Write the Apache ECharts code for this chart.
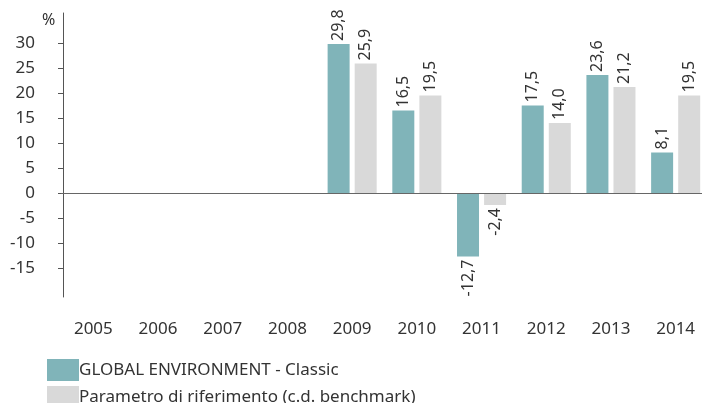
<!DOCTYPE html>
<html>
<head>
<meta charset="utf-8">
<script src="https://cdn.jsdelivr.net/npm/echarts@6/dist/echarts.min.js"></script>
<style>
  html, body { margin: 0; padding: 0; background: #fff; }
  #chart { width: 702px; height: 403px; }
</style>
</head>
<body>
<div id="chart"></div>
<script>
// dati
var anni = ['2005', '2006', '2007', '2008', '2009', '2010', '2011', '2012', '2013', '2014']
var fondo = [null, null, null, null, 29.8, 16.5, -12.7, 17.5, 23.6, 8.1]
var benchmark = [null, null, null, null, 25.9, 19.5, -2.4, 14.0, 21.2, 19.5]
var tickY = [-15, -10, -5, 0, 5, 10, 15, 20, 25, 30]
var nomi = ['GLOBAL ENVIRONMENT - Classic', 'Parametro di riferimento (c.d. benchmark)']

var font = 'Noto Sans'
var testo = '#333'

// etichette ruotate: sopra per valori positivi, sotto per i negativi
function conEtichette(arr) {
  return arr.map(function (v) {
    if (v === null) return null
    var neg = v < 0
    return {
      value: v,
      label: {
        show: true,
        position: neg ? 'bottom' : 'top',
        rotate: 90,
        align: neg ? 'right' : 'left',
        verticalAlign: 'middle',
        distance: 3,
        color: testo,
        fontFamily: font,
        fontSize: 16,
        formatter: function (p) {
          return p.value.toFixed(1).replace('.', ',')
        }
      }
    }
  })
}

// una legenda per riga (quella verticale andrebbe a capo in colonna)
function legenda(nome, top) {
  return {
    left: 47,
    top: top,
    padding: 0,
    itemWidth: 32,
    itemHeight: 22,
    icon: 'rect',
    data: [nome],
    textStyle: { color: testo, fontFamily: font, fontSize: 17, padding: [0, 0, 0, -5] }
  }
}

var myChart = echarts.init(document.getElementById('chart'))
var option = {
  animation: false,
  title: {
    text: '%',
    left: 42,
    top: 12,
    padding: 0,
    textStyle: { color: testo, fontFamily: font, fontSize: 16, fontWeight: 'normal' }
  },
  legend: [legenda(nomi[0], 359), legenda(nomi[1], 386)],
  grid: {
    left: 61,
    top: 13,
    width: 647,
    height: 284,
    containLabel: false,
    outerBoundsMode: 'none'
  },
  xAxis: {
    type: 'category',
    data: anni,
    axisLine: { show: false, onZero: false },
    axisTick: { show: false },
    axisLabel: { margin: 24, color: testo, fontFamily: font, fontSize: 17 }
  },
  yAxis: {
    type: 'value',
    min: -20.8,
    max: 36,
    offset: -2,
    splitLine: { show: false },
    axisLine: { show: true, lineStyle: { color: '#555', width: 1 } },
    axisTick: { show: true, length: 5, customValues: tickY, lineStyle: { color: '#555' } },
    axisLabel: { margin: 28, customValues: tickY, color: testo, fontFamily: font, fontSize: 17 }
  },
  series: [
    {
      name: nomi[0],
      type: 'bar',
      barWidth: 22,
      barGap: '23%',
      itemStyle: { color: '#80b4b9' },
      data: conEtichette(fondo),
      markLine: {
        silent: true,
        symbol: 'none',
        label: { show: false },
        lineStyle: { color: '#666', width: 1, type: 'solid' },
        data: [{ yAxis: 0 }]
      }
    },
    {
      name: nomi[1],
      type: 'bar',
      barWidth: 22,
      itemStyle: { color: '#d9d9d9' },
      data: conEtichette(benchmark)
    }
  ]
}
myChart.setOption(option)
</script>
</body>
</html>
